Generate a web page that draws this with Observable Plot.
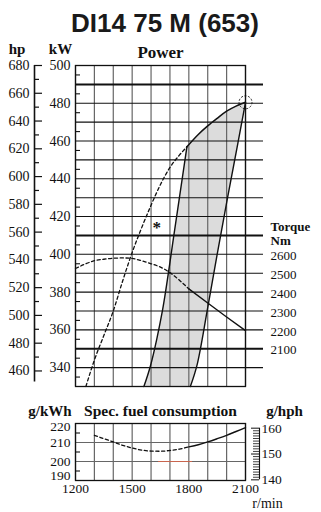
<!DOCTYPE html>
<html><head><meta charset="utf-8">
<script src="https://cdn.jsdelivr.net/npm/d3@7"></script>
<script src="https://cdn.jsdelivr.net/npm/@observablehq/plot@0.6"></script>
<style>
html,body{margin:0;padding:0;background:#fff;}
#root{position:relative;width:321px;height:512px;overflow:hidden;background:#fff;}
#title{position:absolute;left:0;top:8px;width:321px;padding-left:9px;box-sizing:border-box;text-align:center;font:bold 26px "Liberation Sans",Arial,sans-serif;color:#1a1a1a;line-height:30px;}
#top{position:absolute;left:0;top:40px;}
#bot{position:absolute;left:0;top:400px;}
svg{overflow:visible}
#top svg text, #bot svg text{font-family:"Liberation Serif","Times New Roman",serif;}
</style></head><body>
<div id="root"><div id="title"></div><div id="top"></div><div id="bot"></div></div>
<script>
// ---------- data ----------
const chartTitle = "DI14 75 M (653)";
const rpmDomain = [1200, 2100];
const rpmGrid = [1200, 1300, 1400, 1500, 1600, 1700, 1800, 1900, 2000, 2100];
const rpmLabels = [1200, 1500, 1800, 2100];

const kWDomain = [330, 500];
const kWLabels = [340, 360, 380, 400, 420, 440, 460, 480, 500];
const kWMinorTicks = [335, 345, 355, 365, 375, 385, 395, 405, 415, 425, 435, 445, 455, 465, 475, 485, 495];

const hpLabels = [460, 480, 500, 520, 540, 560, 580, 600, 620, 640, 660, 680];
const hpMinorTicks = [470, 490, 510, 530, 550, 570, 590, 610, 630, 650, 670];
const hpAxisRange = [452, 680];

const torqueGrid = [2000, 2100, 2200, 2300, 2400, 2500, 2600, 2700, 2800, 2900, 3000, 3100, 3200, 3300, 3400, 3500];
const torqueHeavy = [2100, 2700, 3500];
const torqueLabels = [2100, 2200, 2300, 2400, 2500, 2600];

// power (kW) vs rpm
const powerDashedRpm = [1255, 1300, 1350, 1400, 1450, 1500, 1550, 1600, 1650, 1700, 1750, 1790];
const powerDashedKW  = [330, 344, 357, 370, 386, 401, 414, 426, 437, 446, 452.5, 457];
const powerSolidRpm = [1790, 1850, 1900, 1950, 2000, 2050, 2100];
const powerSolidKW  = [457, 463.5, 468, 472, 475.8, 478.5, 480.5];

// torque (Nm) vs rpm
const torqueDashedRpm = [1200, 1250, 1300, 1350, 1400, 1450, 1500, 1550, 1600, 1650, 1700, 1750, 1800];
const torqueDashedNm  = [2525, 2548, 2566, 2574, 2579, 2581, 2578, 2566, 2550, 2532, 2503, 2463, 2417];
const torqueSolidRpm = [1800, 1900, 2000, 2100];
const torqueSolidNm  = [2417, 2342, 2268, 2196];

// shaded operating band boundaries (rpm, kW), bottom -> top
const bandLeftRpm = [1562, 1597, 1630, 1660, 1725, 1790];
const bandLeftKW  = [330, 341, 355, 370, 413, 457];
const bandRightRpm = [1808, 1845, 1897, 1950, 2005, 2060, 2100];
const bandRightKW  = [330, 342, 370, 400, 430, 459, 480.5];

const ratedPoint = [{rpm: 2100, kW: 480.5}];
const starNote = [{rpm: 1630, kW: 414, label: "*"}];

// specific fuel consumption g/kWh
const sfcDomain = [190, 220];
const sfcLabels = [190, 200, 210, 220];
const sfcGrid = [200, 210];
const sfcMinorTicks = [195, 205, 215];
const gphLabels = [140, 150, 160];
const gphMinorTicks = [141, 142, 143, 144, 145, 146, 147, 148, 149, 151, 152, 153, 154, 155, 156, 157, 158, 159];
const sfcDashedRpm = [1300, 1350, 1400, 1450, 1500, 1550, 1600, 1650, 1700, 1750, 1800];
const sfcDashedG   = [213.8, 212, 210.3, 208.5, 207.1, 206, 205.5, 205.4, 205.8, 206.5, 207.7];
const sfcSolidRpm = [1800, 1850, 1900, 1950, 2000, 2050, 2100];
const sfcSolidG   = [207.7, 208.8, 210.3, 212, 213.8, 215.8, 217.8];
const sfcMarker = [{g: 200, from: 1640, to: 1820}];

// ---------- conversions for secondary axes ----------
const hpToKW = hp => hp / 1.36;
const nmToKW = t => 400 + (t - 2600) / 10;
const gphToGkwh = g => g / 0.7355;
const zip = (xs, ys) => xs.map((x, i) => ({x, y: ys[i]}));

document.getElementById("title").textContent = chartTitle;

const powerDashed = zip(powerDashedRpm, powerDashedKW);
const powerSolid = zip(powerSolidRpm, powerSolidKW);
const torqueDashed = zip(torqueDashedRpm, torqueDashedNm.map(nmToKW));
const torqueSolid = zip(torqueSolidRpm, torqueSolidNm.map(nmToKW));
const bandLeft = zip(bandLeftRpm, bandLeftKW);
const bandRight = zip(bandRightRpm, bandRightKW);
const bandPoly = [...bandLeft, ...powerSolid.slice(1), ...bandRight.slice().reverse()];

const serif = "'Liberation Serif','Times New Roman',serif";
const ink = "#111";
const gridGray = "#666";
const dash = "3.2,2.6";
const label = (s, o) => Plot.text([s], {textAnchor: "middle", lineAnchor: "middle", fontWeight: "bold", ...o});
const torqueTitleY = () => nmToKW(d3.max(torqueLabels) + 100);

const topPlot = Plot.plot({
  width: 321, height: 360,
  marginLeft: 75, marginRight: 76, marginTop: 25, marginBottom: 14,
  style: {fontFamily: serif, fontSize: "14px", color: ink, background: "transparent", overflow: "visible"},
  x: {domain: rpmDomain, axis: null},
  y: {domain: kWDomain, axis: null},
  marks: [
    Plot.line(bandPoly, {x: "x", y: "y", fill: "#dcdcdc", stroke: "none"}),
    Plot.ruleX(rpmGrid, {stroke: gridGray, strokeWidth: 1.2}),
    Plot.ruleY(torqueGrid, {y: nmToKW, stroke: ink, strokeWidth: d => torqueHeavy.includes(d) ? 2 : 1.1, insetRight: -18}),
    Plot.frame({stroke: ink, strokeWidth: 1.3}),
    // kW axis
    Plot.axisY(kWLabels, {anchor: "left", tickSize: 0, tickPadding: 5, label: null, fontSize: 14}),
    Plot.tickY(kWMinorTicks, {y: d => d, insetRight: 165, stroke: ink, strokeWidth: 1.1}),
    // hp axis
    Plot.ruleX([rpmDomain[0]], {y1: hpToKW(hpAxisRange[0]), y2: hpToKW(hpAxisRange[1]), dx: -41, stroke: ink, strokeWidth: 1.6}),
    Plot.tickY(hpLabels, {y: hpToKW, insetRight: 162, dx: -41, stroke: ink, strokeWidth: 1.2}),
    Plot.tickY(hpMinorTicks, {y: hpToKW, insetRight: 165, dx: -41, stroke: ink, strokeWidth: 1.2}),
    Plot.text(hpLabels, {y: hpToKW, text: d => String(d), frameAnchor: "left", textAnchor: "end", lineAnchor: "middle", dx: -46, fontSize: 14}),
    // torque labels
    Plot.text(torqueLabels, {y: nmToKW, text: d => String(d), frameAnchor: "right", textAnchor: "start", lineAnchor: "middle", dx: 25, dy: 1.5, fontSize: 13}),
    Plot.text(["Torque"], {y: torqueTitleY, frameAnchor: "right", textAnchor: "start", lineAnchor: "middle", dx: 25, dy: -8.5, fontSize: 13, fontWeight: "bold"}),
    Plot.text(["Nm"], {y: torqueTitleY, frameAnchor: "right", textAnchor: "start", lineAnchor: "middle", dx: 25, dy: 5.2, fontSize: 13, fontWeight: "bold"}),
    // curves
    Plot.line(bandLeft, {x: "x", y: "y", stroke: ink, strokeWidth: 1.4, curve: "monotone-x"}),
    Plot.line(bandRight, {x: "x", y: "y", stroke: ink, strokeWidth: 1.4, curve: "monotone-x"}),
    Plot.line(powerDashed, {x: "x", y: "y", stroke: ink, strokeWidth: 1.3, strokeDasharray: dash, curve: "monotone-x"}),
    Plot.line(powerSolid, {x: "x", y: "y", stroke: ink, strokeWidth: 1.5, curve: "monotone-x"}),
    Plot.line(torqueDashed, {x: "x", y: "y", stroke: ink, strokeWidth: 1.3, strokeDasharray: dash, curve: "monotone-x"}),
    Plot.line(torqueSolid, {x: "x", y: "y", stroke: ink, strokeWidth: 1.4, curve: "monotone-x"}),
    Plot.dot(ratedPoint, {x: "rpm", y: "kW", r: 6.5, stroke: ink, strokeWidth: 0.9, strokeDasharray: "2,1.6", fill: "none"}),
    Plot.text(starNote, {x: "rpm", y: "kW", text: "label", fontSize: 17, fontWeight: "bold"}),
    // titles
    label("hp", {frameAnchor: "top-left", dx: -58.5, dy: -16, fontSize: 15}),
    label("kW", {frameAnchor: "top-left", dx: -15, dy: -16, fontSize: 15}),
    label("Power", {frameAnchor: "top", dy: -13, fontSize: 17})
  ]
});
document.getElementById("top").appendChild(topPlot);

const sfcDashed = zip(sfcDashedRpm, sfcDashedG);
const sfcSolid = zip(sfcSolidRpm, sfcSolidG);
const sfcTop = d3.max(sfcLabels), sfcBottom = d3.min(sfcLabels);
const leftLabel = (vals, dy) => Plot.text(vals, {y: d => d, text: d => String(d), frameAnchor: "left", textAnchor: "end", lineAnchor: "middle", dx: -5, dy, fontSize: 13.5});

const botPlot = Plot.plot({
  width: 321, height: 112,
  marginLeft: 75, marginRight: 76, marginTop: 23, marginBottom: 32,
  style: {fontFamily: serif, fontSize: "14px", color: ink, background: "transparent", overflow: "visible"},
  x: {domain: rpmDomain, axis: null},
  y: {domain: sfcDomain, axis: null},
  marks: [
    Plot.ruleX(rpmGrid, {stroke: gridGray, strokeWidth: 1.2}),
    Plot.ruleY(sfcGrid, {stroke: gridGray, strokeWidth: 1.2}),
    Plot.ruleY(sfcMarker, {y: "g", x1: "from", x2: "to", stroke: "#c8654e", strokeWidth: 1}),
    Plot.frame({stroke: ink, strokeWidth: 1.3}),
    // left labels: inner ones centred on ticks, end ones nudged inside the frame
    leftLabel(sfcLabels.filter(d => d !== sfcTop && d !== sfcBottom), 0.5),
    leftLabel([sfcTop], 3),
    leftLabel([sfcBottom], -4.5),
    Plot.tickY(sfcMinorTicks, {y: d => d, insetRight: 165, stroke: ink, strokeWidth: 1.1}),
    Plot.axisX(rpmLabels, {anchor: "bottom", tickSize: 0, tickPadding: 3, label: null, fontSize: 13.5, tickFormat: d => String(d)}),
    // g/hph axis
    Plot.ruleX([rpmDomain[1]], {y1: gphToGkwh(d3.min(gphLabels)), y2: gphToGkwh(d3.max(gphLabels)), dx: 14, stroke: ink, strokeWidth: 1.1}),
    Plot.tickY(gphLabels, {y: gphToGkwh, insetLeft: 176, insetRight: -14, stroke: ink, strokeWidth: 1}),
    Plot.tickY(gphMinorTicks, {y: gphToGkwh, insetLeft: 178, insetRight: -14, stroke: ink, strokeWidth: 0.8}),
    Plot.text(gphLabels, {y: gphToGkwh, text: d => String(d), frameAnchor: "right", textAnchor: "start", lineAnchor: "middle", dx: 16, fontSize: 13.5}),
    // curves
    Plot.line(sfcDashed, {x: "x", y: "y", stroke: ink, strokeWidth: 1.3, strokeDasharray: dash, curve: "monotone-x"}),
    Plot.line(sfcSolid, {x: "x", y: "y", stroke: ink, strokeWidth: 1.4, curve: "monotone-x"}),
    // titles
    label("g/kWh", {frameAnchor: "top-left", dx: -25.5, dy: -12, fontSize: 15}),
    label("Spec. fuel consumption", {frameAnchor: "top", dy: -12, fontSize: 15.5}),
    label("g/hph", {frameAnchor: "top-right", dx: 39, dy: -12.5, fontSize: 15}),
    label("r/min", {frameAnchor: "bottom-right", dx: 22, dy: 23, fontSize: 14, fontWeight: "normal"})
  ]
});
document.getElementById("bot").appendChild(botPlot);
</script>
</body></html>
